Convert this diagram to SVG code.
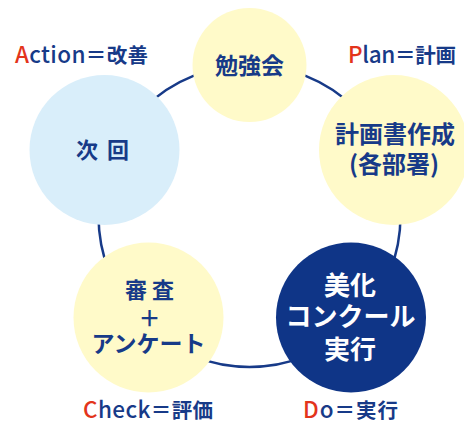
<svg xmlns="http://www.w3.org/2000/svg" width="464" height="423" viewBox="0 0 464 423">
<style>
.t{font-family:"Noto Sans CJK JP","Noto Sans",sans-serif;font-weight:700;fill:#173a88;text-anchor:middle}
.w{fill:#ffffff}
.lb{font-family:"Noto Sans CJK JP","Noto Sans",sans-serif;font-weight:700;fill:#173a88;font-size:20.5px}
.la{font-size:22.5px;font-weight:500}
.r{fill:#e3341b}
.y{fill:#fffac9}
.b{fill:#d9eefa}
.d{fill:#0f3587}
</style>
<rect width="464" height="423" fill="#ffffff"/>
<g id="connectors">
<circle cx="249.5" cy="216" r="151" fill="none" stroke="#173a88" stroke-width="2.5"/>
</g>
<g id="node-benkyokai">
<circle class="y" cx="249.5" cy="65" r="57"/>
<text class="t" x="249.5" y="74" font-size="23">勉強会</text>
</g>
<g id="node-plan">
<circle class="y" cx="394" cy="150" r="75"/>
<text class="t" x="395" y="142.5" font-size="24">計画書作成</text>
<text class="t" x="394" y="172.5" font-size="24">(各部署)</text>
</g>
<g id="node-do">
<circle class="d" cx="351" cy="317.5" r="75"/>
<text class="t w" x="350" y="295" font-size="26">美化</text>
<text class="t w" x="350.5" y="326" font-size="26">コンクール</text>
<text class="t w" x="350" y="359" font-size="26">実行</text>
</g>
<g id="node-check">
<circle class="y" cx="148.5" cy="317.5" r="75"/>
<text class="t" x="149.5" y="298" font-size="22">審 査</text>
<text class="t" x="149.5" y="326" font-size="22">＋</text>
<text class="t" x="148.5" y="352" font-size="23">アンケート</text>
</g>
<g id="node-action">
<circle class="b" cx="104.5" cy="150" r="75"/>
<text class="t" x="103.5" y="158" font-size="22" letter-spacing="2">次 回</text>
</g>
<g id="labels">
<text class="lb" x="15" y="63" textLength="133" lengthAdjust="spacing"><tspan class="la"><tspan class="r">A</tspan>ction</tspan>＝改善</text>
<text class="lb" x="348" y="63" textLength="108" lengthAdjust="spacing"><tspan class="la"><tspan class="r">P</tspan>lan</tspan>＝計画</text>
<text class="lb" x="83" y="418" textLength="130" lengthAdjust="spacing"><tspan class="la"><tspan class="r">C</tspan>heck</tspan>＝評価</text>
<text class="lb" x="303" y="418" textLength="95" lengthAdjust="spacing"><tspan class="la"><tspan class="r">D</tspan>o</tspan>＝実行</text>
</g>
</svg>
